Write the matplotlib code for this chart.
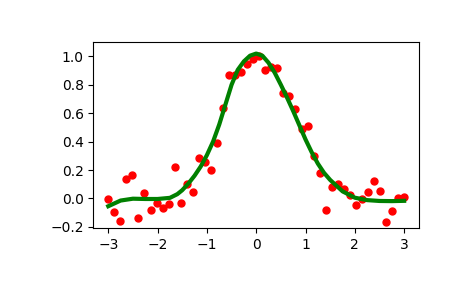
import matplotlib
matplotlib.use("Agg")
import matplotlib.pyplot as plt
import numpy as np

# noisy samples, 50 points on [-3, 3]
x_pts = np.linspace(-3, 3, 50)
y_pts = [-0.007, -0.099, -0.160, 0.134, 0.162, -0.141, 0.035, -0.085, -0.031, -0.066,
         -0.042, 0.218, -0.030, 0.099, 0.042, 0.282, 0.254, 0.197, 0.387, 0.636,
         0.866, 0.870, 0.887, 0.944, 0.985, 1.004, 0.904, 0.923, 0.918, 0.739,
         0.720, 0.627, 0.490, 0.509, 0.298, 0.176, -0.085, 0.082, 0.103, 0.068,
         0.021, -0.047, -0.003, 0.042, 0.120, 0.049, -0.167, -0.092, 0.000, 0.007]

# smoothed fit
x_fit = [-3.0, -2.75, -2.5, -2.25, -2.0, -1.75, -1.6, -1.5, -1.375, -1.25,
         -1.125, -1.0, -0.875, -0.75, -0.625, -0.5, -0.375, -0.25, -0.125, 0.0,
         0.125, 0.25, 0.375, 0.5, 0.625, 0.75, 0.875, 1.0, 1.125, 1.25,
         1.375, 1.5, 1.75, 2.0, 2.25, 2.5, 2.75, 3.0]
y_fit = [-0.055, -0.015, -0.002, -0.004, -0.004, 0.004, 0.03, 0.058, 0.105, 0.16,
         0.225, 0.305, 0.40, 0.52, 0.66, 0.80, 0.905, 0.965, 1.005, 1.02,
         1.005, 0.955, 0.885, 0.80, 0.71, 0.615, 0.515, 0.415, 0.325, 0.245,
         0.18, 0.13, 0.05, 0.005, -0.012, -0.018, -0.019, -0.017]

fig = plt.figure(figsize=(4.65, 2.88), dpi=100)
ax = fig.add_axes([0.201, 0.207, 0.700, 0.646])
ax.plot(x_pts, y_pts, 'ro', ms=5)
ax.plot(x_fit, y_fit, 'g', lw=3)
ax.set_xlim(-3.3, 3.3)
ax.set_ylim(-0.211, 1.099)
ax.set_yticks([-0.2, 0.0, 0.2, 0.4, 0.6, 0.8, 1.0])
fig.savefig("out.png", dpi=100)
